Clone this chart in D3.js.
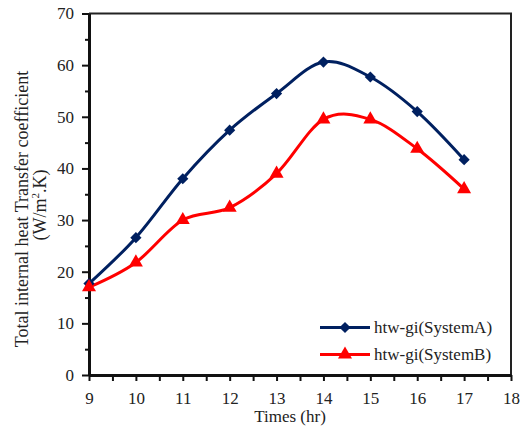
<!DOCTYPE html>
<html>
<head>
<meta charset="utf-8">
<script src="https://cdn.jsdelivr.net/npm/d3@7"></script>
<style>
  body { margin: 0; background: #fff; }
  svg text { font-family: "Liberation Serif", "Times New Roman", serif; fill: #222; }
</style>
</head>
<body>
<div id="app"></div>
<script>
const hours = [9, 10, 11, 12, 13, 14, 15, 16, 17];
const systemA = [17.7, 26.6, 38.0, 47.4, 54.5, 60.6, 57.7, 51.0, 41.7];
const systemB = [17.0, 21.8, 30.0, 32.4, 39.0, 49.5, 49.5, 43.8, 36.0];
const seriesNames = ['htw-gi(SystemA)', 'htw-gi(SystemB)'];
const xTicks = [9, 10, 11, 12, 13, 14, 15, 16, 17, 18];
const yTicks = [0, 10, 20, 30, 40, 50, 60, 70];

const w = 520;
const h = 427;
const plotLeft = 89, plotRight = 511, plotTop = 13.5, plotBottom = 375;

const svg = d3.select('#app')
  .append('svg')
  .attr('width', w)
  .attr('height', h);

const xScale = d3.scaleLinear().domain([9, 18]).range([plotLeft, plotRight]);
const yScale = d3.scaleLinear().domain([0, 70]).range([plotBottom, plotTop]);

// frame (top & right)
svg.append('path')
  .attr('d', `M${plotLeft},${plotTop}H${plotRight}V${plotBottom}`)
  .attr('fill', 'none')
  .attr('stroke', '#222')
  .attr('stroke-width', 2);

// minor ticks
svg.append('g')
  .attr('transform', 'translate(' + plotLeft + ',0)')
  .call(d3.axisLeft(yScale).tickValues(d3.range(5, 70, 10)).tickSize(4).tickFormat(''))
  .call(g => g.select('.domain').remove())
  .selectAll('line').attr('stroke', '#111').attr('stroke-width', 2);

svg.append('g')
  .attr('transform', 'translate(0,' + plotBottom + ')')
  .call(d3.axisBottom(xScale).tickValues(d3.range(9.5, 18, 1)).tickSize(6).tickFormat(''))
  .call(g => g.select('.domain').remove())
  .selectAll('line').attr('stroke', '#111').attr('stroke-width', 2);

// major axes
const yAxis = svg.append('g')
  .attr('transform', 'translate(' + plotLeft + ',0)')
  .call(d3.axisLeft(yScale).tickValues(yTicks).tickSize(7).tickSizeOuter(0).tickPadding(8));

const xAxis = svg.append('g')
  .attr('transform', 'translate(0,' + plotBottom + ')')
  .call(d3.axisBottom(xScale).tickValues(xTicks).tickSize(6).tickSizeOuter(0).tickPadding(11));

[yAxis, xAxis].forEach(a => {
  a.select('.domain').attr('stroke', '#111').attr('stroke-width', 3);
  a.selectAll('.tick line').attr('stroke', '#111').attr('stroke-width', 2);
  a.selectAll('.tick text')
    .style('font-family', '"Liberation Serif", serif')
    .style('font-size', '17px')
    .attr('fill', '#222');
});

// axis titles
svg.append('text')
  .attr('x', 290)
  .attr('y', 422)
  .attr('text-anchor', 'middle')
  .style('font-size', '17px')
  .text('Times (hr)');

const yTitle = svg.append('text')
  .attr('transform', 'translate(0,209) rotate(-90)')
  .attr('text-anchor', 'middle')
  .style('font-size', '18px');

yTitle.append('tspan')
  .attr('x', 0)
  .attr('y', 28)
  .text('Total internal heat Transfer coefficient');

const line2 = yTitle.append('tspan')
  .attr('x', 4)
  .attr('y', 46)
  .text('(W/m');
line2.append('tspan').attr('dy', -7).style('font-size', '11px').text('2');
line2.append('tspan').attr('dy', 7).text('.K)');

// lines
const lineGen = d3.line()
  .x((d) => xScale(d[0]))
  .y((d) => yScale(d[1]))
  .curve(d3.curveCardinal.tension(0));

const navy = '#002060';
const red = '#FF0000';

const dataA = hours.map((hr, i) => [hr, systemA[i]]);
const dataB = hours.map((hr, i) => [hr, systemB[i]]);

svg.append('path')
  .attr('d', lineGen(dataA))
  .attr('fill', 'none')
  .attr('stroke', navy)
  .attr('stroke-width', 3);

svg.append('path')
  .attr('d', lineGen(dataB))
  .attr('fill', 'none')
  .attr('stroke', red)
  .attr('stroke-width', 3);

const diamond = d3.symbol().type(d3.symbolDiamond2).size(80);
const triangle = d3.symbol().type(d3.symbolTriangle).size(85);

svg.selectAll('.markA')
  .data(dataA)
  .enter()
  .append('path')
  .attr('class', 'markA')
  .attr('d', diamond)
  .attr('transform', (d) => 'translate(' + xScale(d[0]) + ',' + yScale(d[1]) + ')')
  .attr('fill', navy);

svg.selectAll('.markB')
  .data(dataB)
  .enter()
  .append('path')
  .attr('class', 'markB')
  .attr('d', triangle)
  .attr('transform', (d) => 'translate(' + xScale(d[0]) + ',' + yScale(d[1]) + ')')
  .attr('fill', red);

// legend
const legend = svg.append('g');
const legendRows = [
  { name: seriesNames[0], color: navy, sym: diamond, y: 327.5 },
  { name: seriesNames[1], color: red, sym: triangle, y: 354.5 }
];

legendRows.forEach((r) => {
  legend.append('line')
    .attr('x1', 320).attr('x2', 370)
    .attr('y1', r.y).attr('y2', r.y)
    .attr('stroke', r.color)
    .attr('stroke-width', 3);
  legend.append('path')
    .attr('d', r.sym)
    .attr('transform', 'translate(345,' + r.y + ')')
    .attr('fill', r.color);
  legend.append('text')
    .attr('x', 374)
    .attr('y', r.y + 5.5)
    .style('font-size', '17px')
    .text(r.name);
});
</script>
</body>
</html>
